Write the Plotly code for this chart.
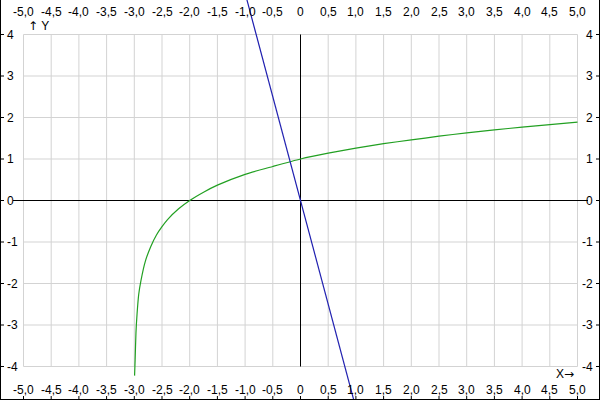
import plotly.graph_objects as go

# ---- data ----
x_ticks = [-5.0, -4.5, -4.0, -3.5, -3.0, -2.5, -2.0, -1.5, -1.0, -0.5, 0.0,
           0.5, 1.0, 1.5, 2.0, 2.5, 3.0, 3.5, 4.0, 4.5, 5.0]
x_tick_labels = ["-5,0", "-4,5", "-4,0", "-3,5", "-3,0", "-2,5", "-2,0", "-1,5", "-1,0", "-0,5", "0",
                 "0,5", "1,0", "1,5", "2,0", "2,5", "3,0", "3,5", "4,0", "4,5", "5,0"]
y_ticks = [-4, -3, -2, -1, 0, 1, 2, 3, 4]
y_tick_labels = ["-4", "-3", "-2", "-1", "0", "1", "2", "3", "4"]

green_x = [-2.995, -2.985, -2.97, -2.95, -2.92, -2.88, -2.8, -2.7, -2.6, -2.5, -2.4,
           -2.2, -2.0, -1.75, -1.5, -1.0, -0.5, 0.0, 0.5, 1.0, 1.5, 2.0, 2.5, 3.0,
           3.5, 4.0, 4.5, 5.0]
green_y = [-4.22, -3.84, -3.19, -2.73, -2.26, -1.93, -1.46, -1.10, -0.83, -0.63, -0.46,
           -0.20, 0.0, 0.20, 0.37, 0.63, 0.82, 1.0, 1.14, 1.26, 1.37, 1.46, 1.55, 1.63,
           1.70, 1.77, 1.83, 1.89]

blue_x = [-1.0, 1.0]
blue_y = [5.0, -5.0]

W, H = 600, 400
# pixel centres of the data box edges in the reference
PX_L, PX_R = 23.5, 577.5
PY_T, PY_B = 34.5, 366.5
xs = (PX_R - PX_L) / 10.0
ys = (PY_B - PY_T) / 8.0
xr0 = -5 - PX_L / xs
xr1 = 5 + (W - PX_R) / xs
yr1 = 4 + PY_T / ys
yr0 = -4 - (H - PY_B) / ys

GRID = "#d3d3d3"
FONT = dict(family="Liberation Sans, Arial, sans-serif", size=12, color="#000000")

fig = go.Figure()

fig.add_trace(go.Scatter(x=green_x, y=green_y, mode="lines",
                         line=dict(color="#22a022", width=1.2, shape="spline", smoothing=0.6),
                         hoverinfo="skip", showlegend=False))
fig.add_trace(go.Scatter(x=blue_x, y=blue_y, mode="lines", line=dict(color="#2020b0", width=1.2),
                         hoverinfo="skip", showlegend=False))

shapes = []
# grid
for xv in x_ticks:
    shapes.append(dict(type="line", xref="x", yref="y", x0=xv, x1=xv, y0=y_ticks[0], y1=y_ticks[-1],
                       line=dict(color=GRID, width=1), layer="below"))
for yv in y_ticks:
    shapes.append(dict(type="line", xref="x", yref="y", x0=x_ticks[0], x1=x_ticks[-1], y0=yv, y1=yv,
                       line=dict(color=GRID, width=1), layer="below"))
# axis lines (same layer as the grid, drawn after it)
shapes.append(dict(type="line", xref="x", yref="y", x0=xr0 + 13 / xs, x1=xr0 + 588 / xs, y0=0, y1=0,
                   line=dict(color="black", width=1), layer="below"))
shapes.append(dict(type="line", xref="x", yref="y", x0=0, x1=0, y0=y_ticks[0], y1=y_ticks[-1],
                   line=dict(color="black", width=1), layer="below"))
# frame (left, right, bottom)
shapes.append(dict(type="line", xref="paper", yref="paper", x0=0.5 / W, x1=0.5 / W, y0=0, y1=1,
                   line=dict(color="black", width=1)))
shapes.append(dict(type="line", xref="paper", yref="paper", x0=1 - 0.5 / W, x1=1 - 0.5 / W, y0=0, y1=1,
                   line=dict(color="black", width=1)))
shapes.append(dict(type="line", xref="paper", yref="paper", x0=0, x1=1, y0=0.5 / H, y1=0.5 / H,
                   line=dict(color="black", width=1)))
# tick marks
for xv in x_ticks:
    shapes.append(dict(type="line", xref="x", yref="paper", x0=xv, x1=xv, y0=0, y1=4 / H,
                       line=dict(color="black", width=1)))
for yv in y_ticks:
    shapes.append(dict(type="line", xref="paper", yref="y", x0=0, x1=4 / W, y0=yv, y1=yv,
                       line=dict(color="black", width=1)))
    shapes.append(dict(type="line", xref="paper", yref="y", x0=1 - 4 / W, x1=1, y0=yv, y1=yv,
                       line=dict(color="black", width=1)))

annotations = []
for xv, lab in zip(x_ticks, x_tick_labels):
    annotations.append(dict(x=xv, y=1 - 12 / H, xref="x", yref="paper", text=lab, showarrow=False,
                            xanchor="center", yanchor="middle", font=FONT))
    annotations.append(dict(x=xv, y=1 - 390 / H, xref="x", yref="paper", text=lab, showarrow=False,
                            xanchor="center", yanchor="middle", font=FONT))
for yv, lab in zip(y_ticks, y_tick_labels):
    annotations.append(dict(x=5 / W, y=yv, xref="paper", yref="y", text=lab, showarrow=False,
                            xanchor="left", yanchor="middle", font=FONT))
    annotations.append(dict(x=595 / W, y=yv, xref="paper", yref="y", text=lab, showarrow=False,
                            xanchor="right", yanchor="middle", font=FONT))
ARROW = '<span style="font-family:DejaVu Sans">{}</span>'
annotations.append(dict(x=26 / W, y=1 - 26 / H, xref="paper", yref="paper",
                        text=ARROW.format("↑") + " Y", showarrow=False,
                        xanchor="left", yanchor="middle", font=FONT))
annotations.append(dict(x=576 / W, y=1 - 374 / H, xref="paper", yref="paper",
                        text="X" + ARROW.format("→"), showarrow=False,
                        xanchor="right", yanchor="middle", font=FONT))

fig.update_layout(
    width=W, height=H,
    margin=dict(l=0, r=0, t=0, b=0, pad=0),
    paper_bgcolor="white", plot_bgcolor="white",
    xaxis=dict(range=[xr0, xr1], visible=False, showgrid=False, zeroline=False, fixedrange=True),
    yaxis=dict(range=[yr0, yr1], visible=False, showgrid=False, zeroline=False, fixedrange=True),
    shapes=shapes, annotations=annotations, showlegend=False,
)

fig.write_html("out.html", config={"displayModeBar": False},
               post_script="document.body.style.margin='0';document.body.style.overflow='hidden';")
